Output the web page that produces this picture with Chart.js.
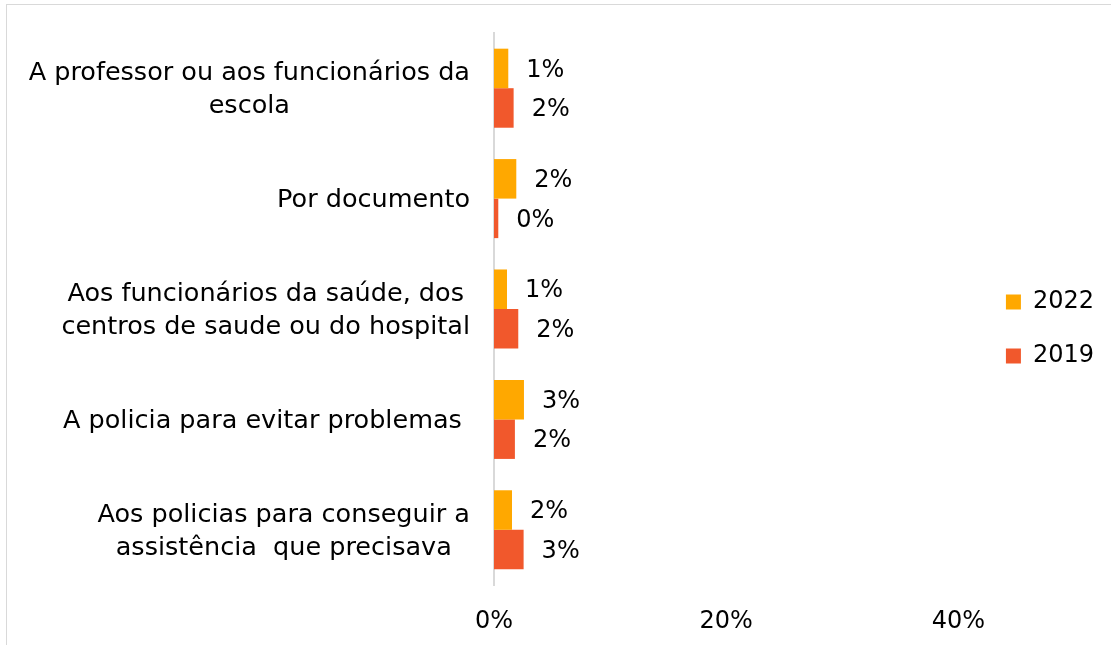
<!DOCTYPE html>
<html>
<head>
<meta charset="utf-8">
<script src="https://cdn.jsdelivr.net/npm/chart.js@4.4.0/dist/chart.umd.min.js"></script>
<style>
  html, body { margin: 0; padding: 0; background: #fff; }
  #box {
    position: absolute; left: 6px; top: 4px; width: 1105px; height: 641px;
    border-left: 1px solid #d9d9d9; border-top: 1px solid #d9d9d9;
  }
  #myChart { display: block; }
</style>
</head>
<body>
<div id="box"><canvas id="myChart" width="1104" height="640"></canvas></div>
<script>
var categories = [
  ['A professor ou aos funcionários da', 'escola'],
  ['Por documento'],
  ['Aos funcionários da saúde, dos', 'centros de saude ou do hospital'],
  ['A policia para evitar problemas '],
  ['Aos policias para conseguir a', 'assistência  que precisava']
];
var values2022 = [1.23, 1.92, 1.12, 2.58, 1.55];
var values2019 = [1.69, 0.37, 2.09, 1.80, 2.55];
var xTicks = [0, 20, 40];
var xMax = 41.5;

var FONT = 'DejaVu Sans';

// category labels: block right-aligned, lines centred inside the block
var catLabels = {
  id: 'catLabels',
  afterDraw: function(chart) {
    var ctx = chart.ctx, y = chart.scales.y, area = chart.chartArea;
    ctx.save();
    ctx.font = '25.5px "' + FONT + '"';
    ctx.fillStyle = '#000';
    ctx.textAlign = 'center';
    ctx.textBaseline = 'middle';
    categories.forEach(function(lines, i) {
      var cy = y.getPixelForValue(i) + 2;
      var maxW = 0;
      lines.forEach(function(l) { maxW = Math.max(maxW, ctx.measureText(l).width); });
      var cx = area.left - 24 - maxW / 2;
      lines.forEach(function(l, j) {
        ctx.fillText(l, cx, cy + (j - (lines.length - 1) / 2) * 33);
      });
    });
    ctx.restore();
  }
};

// value labels at the end of each bar
var valueLabels = {
  id: 'valueLabels',
  afterDatasetsDraw: function(chart) {
    var ctx = chart.ctx;
    ctx.save();
    ctx.font = '24px "' + FONT + '"';
    ctx.fillStyle = '#000';
    ctx.textAlign = 'left';
    ctx.textBaseline = 'middle';
    chart.data.datasets.forEach(function(ds, di) {
      chart.getDatasetMeta(di).data.forEach(function(bar, i) {
        ctx.fillText(Math.round(ds.data[i]) + '%', bar.x + 18, bar.y + 2);
      });
    });
    ctx.restore();
  }
};

var ctx = document.getElementById('myChart').getContext('2d');
var myChart = new Chart(ctx, {
  type: 'bar',
  data: {
    labels: categories,
    datasets: [{
      label: '2022',
      data: values2022,
      backgroundColor: '#FFA800',
      categoryPercentage: 0.716,
      barPercentage: 1
    }, {
      label: '2019',
      data: values2019,
      backgroundColor: '#F1582C',
      categoryPercentage: 0.716,
      barPercentage: 1
    }]
  },
  plugins: [catLabels, valueLabels],
  options: {
    indexAxis: 'y',
    responsive: false,
    animation: false,
    layout: { padding: { left: 7, top: 28, right: 7, bottom: 0 } },
    scales: {
      y: {
        grid: { display: false },
        border: { display: true, color: '#d9d9d9', width: 2 },
        ticks: { display: false },
        afterFit: function(scale) { scale.width = 480; }
      },
      x: {
        min: 0,
        max: xMax,
        grid: { display: false, drawTicks: false },
        border: { display: false },
        afterBuildTicks: function(scale) {
          scale.ticks = xTicks.map(function(v) { return { value: v }; });
        },
        afterFit: function(scale) { scale.height = 60; },
        ticks: {
          padding: 22,
          color: '#000',
          font: { family: FONT, size: 24 },
          callback: function(v) { return v + '%'; }
        }
      }
    },
    plugins: {
      legend: {
        position: 'right',
        fullSize: false,
        title: { display: true, text: ' ', padding: 0, font: { size: 20, lineHeight: 2 } },
        labels: {
          boxWidth: 15,
          boxHeight: 15,
          padding: 30,
          color: '#000',
          font: { family: FONT, size: 24 }
        }
      },
      tooltip: { enabled: false }
    }
  }
});
</script>
</body>
</html>
